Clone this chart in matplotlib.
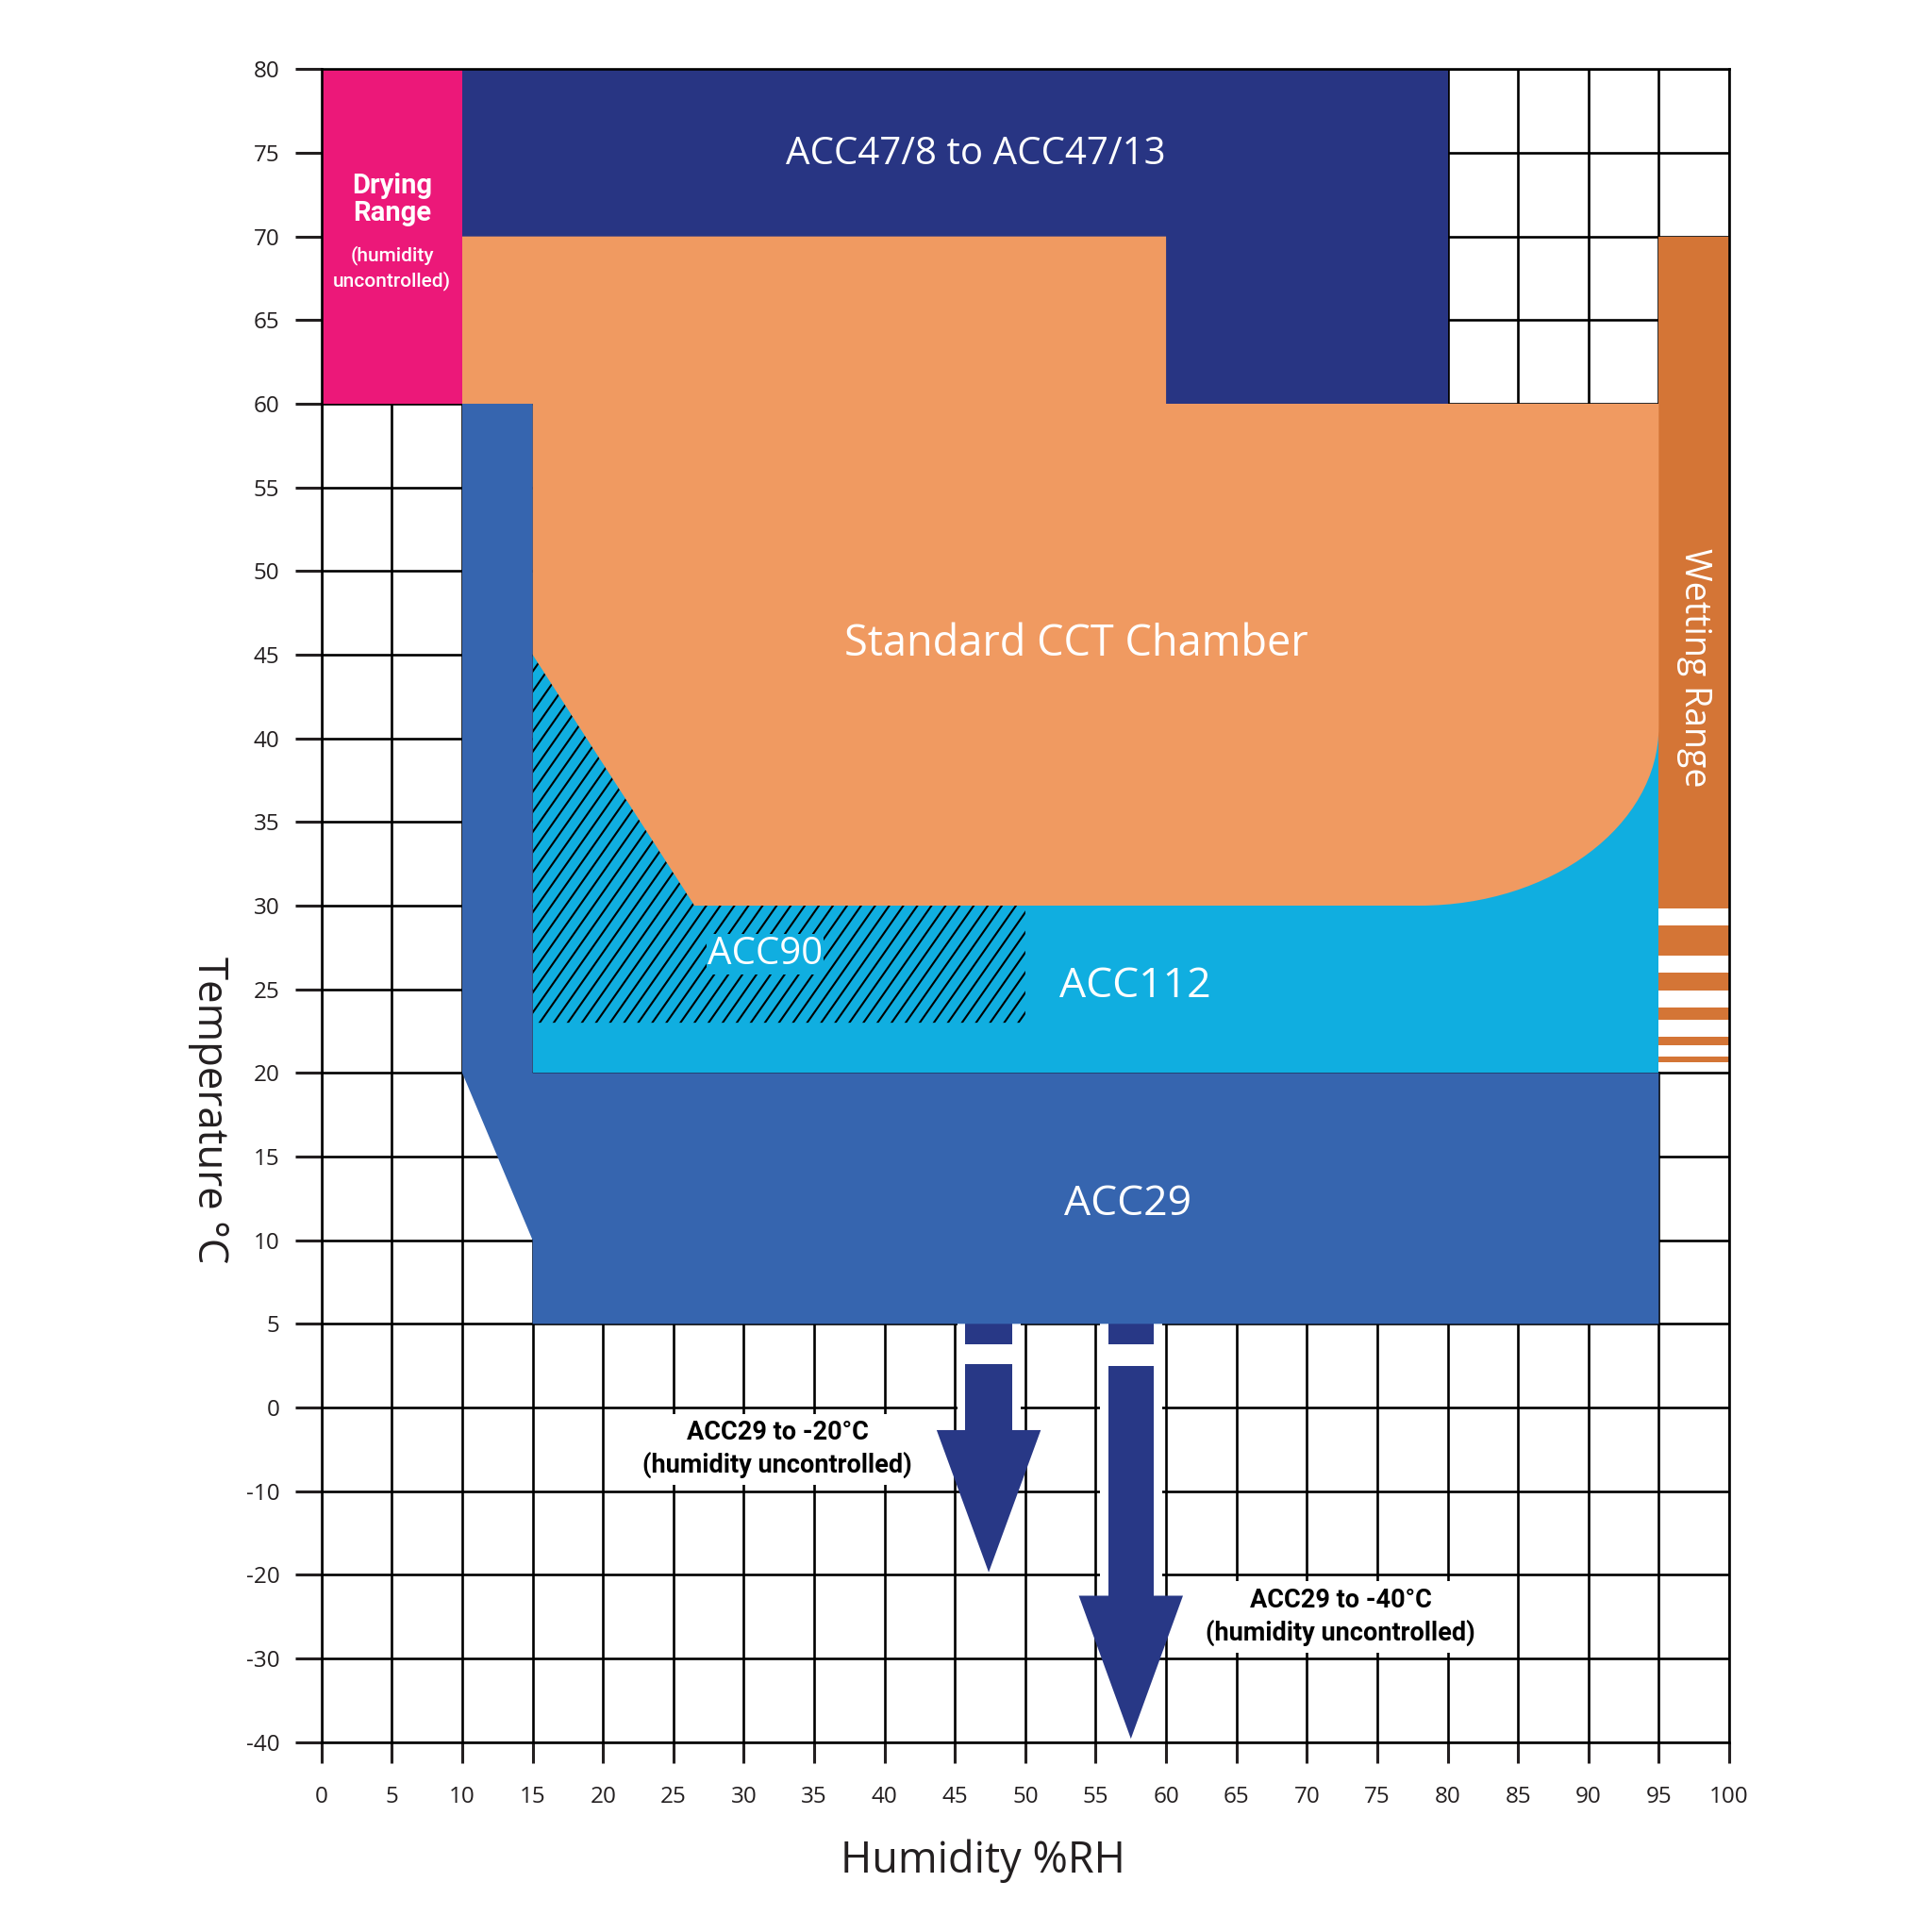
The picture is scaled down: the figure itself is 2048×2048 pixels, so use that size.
import numpy as np
import matplotlib
matplotlib.use("Agg")
import matplotlib.pyplot as plt
from matplotlib.path import Path
from matplotlib.patches import PathPatch, Rectangle

plt.rcParams['font.family'] = ['Open Sans', 'DejaVu Sans']
plt.rcParams['axes.unicode_minus'] = False

NARROW = ['Roboto', 'DejaVu Sans']

# axis ticks
hum_ticks = list(range(0, 101, 5))
temp_ticks = [80, 75, 70, 65, 60, 55, 50, 45, 40, 35, 30, 25, 20, 15, 10, 5, 0, -10, -20, -30, -40]

# operating regions (humidity %RH, temperature C)
drying_x = [0, 10, 10, 0]
drying_t = [60, 60, 80, 80]

acc47_x = [10, 80, 80, 60, 60, 10]
acc47_t = [80, 80, 60, 60, 70, 70]

acc29_x = [10, 15, 15, 95, 95, 15, 15, 10]
acc29_t = [60, 60, 20, 20, 5, 5, 10, 20]

acc112_x = [15, 95, 95, 15]
acc112_t = [20, 20, 45, 45]

acc90_x = [15, 50, 50, 26.5, 15]
acc90_t = [23, 23, 30, 30, 45]

# standard chamber outline, last corner is rounded
cct_x = [10, 60, 60, 95, 95, 95, 87.4, 78, 26.5, 15, 15, 10, 10]
cct_t = [70, 70, 60, 60, 40.7, 34.8, 30, 30, 30, 45, 60, 60, 70]
cct_codes = [Path.MOVETO, Path.LINETO, Path.LINETO, Path.LINETO, Path.LINETO,
             Path.CURVE4, Path.CURVE4, Path.CURVE4,
             Path.LINETO, Path.LINETO, Path.LINETO, Path.LINETO, Path.CLOSEPOLY]

wet_x = [95, 100]
wet_t = [29.85, 70]
stripe_top = [28.8, 26.0, 23.9, 22.15, 21.0]
stripe_bot = [27.0, 24.9, 23.15, 21.65, 20.65]

# arrows below ACC29
arrow_x = [47.4, 57.5]
arrow_shaft = [1.65, 1.6]
arrow_head = [3.7, 3.7]
arrow_break = [(3.8, 2.6), (3.8, 2.5)]
arrow_headtop = [-2.7, -22.5]
arrow_tip = [-19.7, -39.6]

PINK = '#EC1879'
NAVY = '#283583'
ORANGE = '#F09A61'
CYAN = '#10AEE0'
BLUE = '#3665AF'
WET = '#D47536'
ARROW = '#283886'
INK = '#231F20'


def fwd(t):
    t = np.asarray(t, dtype=float)
    return np.where(t >= 0, t / 5.0, t / 10.0)


def inv(y):
    y = np.asarray(y, dtype=float)
    return np.where(y >= 0, y * 5.0, y * 10.0)


fig = plt.figure(figsize=(20.48, 20.48), dpi=100)
ax = fig.add_axes([0.1664, 0.0983, 0.7286, 0.8659])
ax.set_yscale('function', functions=(fwd, inv))
ax.set_xlim(0, 100)
ax.set_ylim(-40, 80)

ax.set_xticks(hum_ticks)
ax.set_xticklabels([str(h) for h in hum_ticks], fontsize=17.5)
ax.set_yticks(temp_ticks)
ax.set_yticklabels([str(t) for t in temp_ticks], fontsize=17.5)
ax.minorticks_off()
ax.tick_params(axis='x', length=16, width=2.2, pad=17, colors=INK)
ax.tick_params(axis='y', length=20, width=2.2, pad=12, colors=INK)
ax.grid(True, color='black', linewidth=1.9)
ax.set_axisbelow(True)
for sp in ax.spines.values():
    sp.set_linewidth(1.9)
    sp.set_color('black')

# region fills
ax.fill(drying_x, drying_t, color=PINK, lw=0)
ax.fill(acc47_x, acc47_t, color=NAVY, lw=0)
ax.fill(acc112_x, acc112_t, color=CYAN, lw=0)

# ACC90 hatch, drawn as slanted lines clipped to its outline
acc90 = ax.fill(acc90_x, acc90_t, facecolor='none', lw=0)[0]
for c in np.arange(-12, 52, 1.0):
    ln, = ax.plot([c, c + 25.0], [20, 50], color='black', lw=1.5, zorder=1.5)
    ln.set_clip_path(acc90)

cct = Path(np.column_stack([cct_x, cct_t]), cct_codes)
ax.add_patch(PathPatch(cct, facecolor=ORANGE, lw=0, zorder=1.6))
ax.fill(acc29_x, acc29_t, color=BLUE, lw=0, zorder=1.6)

# wetting range with stripes
ax.add_patch(Rectangle((wet_x[0], 20.1), wet_x[1] - wet_x[0], wet_t[0] - 20.1,
                       facecolor='white', lw=0, zorder=1.2))
ax.fill_between(wet_x, wet_t[0], wet_t[1], color=WET, lw=0, zorder=1.3)
for top, bot in zip(stripe_top, stripe_bot):
    ax.fill_between(wet_x, bot, top, color=WET, lw=0, zorder=1.3)

# arrows
for xc, sw, hw, brk, htop, tip in zip(arrow_x, arrow_shaft, arrow_head, arrow_break,
                                      arrow_headtop, arrow_tip):
    ax.fill_between([xc - sw - 0.6, xc + sw + 0.6], htop, 5, color='white', lw=0, zorder=1.2)
    ax.fill_between([xc - sw, xc + sw], brk[0], 5, color=ARROW, lw=0, zorder=1.4)
    ax.fill_between([xc - sw, xc + sw], htop, brk[1], color=ARROW, lw=0, zorder=1.4)
    ax.fill([xc - hw, xc + hw, xc], [htop, htop, tip], color=ARROW, lw=0, zorder=1.4)

# labels
ax.text(5, 72.2, 'Drying\nRange', color='white', ha='center', va='center',
        family=NARROW, fontweight='bold', fontsize=21, linespacing=1.05, zorder=3)
ax.text(5, 68.1, '(humidity\nuncontrolled)', color='white', ha='center', va='center',
        family=NARROW, fontweight='medium', fontsize=15, linespacing=1.35, zorder=3)
ax.text(46.5, 74.9, 'ACC47/8 to ACC47/13', color='white', ha='center', va='center',
        fontsize=29, zorder=3)
ax.text(53.6, 45.6, 'Standard CCT Chamber', color='white', ha='center', va='center',
        fontsize=32.5, zorder=3)
ax.text(31.5, 27.1, 'ACC90', color='white', ha='center', va='center', fontsize=29,
        bbox=dict(facecolor=CYAN, edgecolor='none', pad=1), zorder=3)
ax.text(57.8, 25.15, 'ACC112', color='white', ha='center', va='center', fontsize=32, zorder=3)
ax.text(57.3, 12.15, 'ACC29', color='white', ha='center', va='center', fontsize=32, zorder=3)
ax.text(97.5, 44.2, 'Wetting Range', color='white', ha='center', va='center',
        fontsize=27, rotation=270, zorder=3)
ax.text(32.4, -5.0, 'ACC29 to -20°C\n(humidity uncontrolled)', color='black', ha='center',
        va='center', family=NARROW, fontweight='bold', fontsize=19.5, linespacing=1.3,
        bbox=dict(facecolor='white', edgecolor='none', pad=5), zorder=1.3)
ax.text(72.4, -25.0, 'ACC29 to -40°C\n(humidity uncontrolled)', color='black', ha='center',
        va='center', family=NARROW, fontweight='bold', fontsize=19.5, linespacing=1.3,
        bbox=dict(facecolor='white', edgecolor='none', pad=5), zorder=1.3)

ax.set_xlabel('Humidity %RH', fontsize=32.5, color=INK)
ax.xaxis.set_label_coords(0.47, -0.058)
ax.set_ylabel('Temperature °C', fontsize=31.5, color=INK, rotation=270, va='center')
ax.yaxis.set_label_coords(-0.08, 0.378)

fig.savefig('out.png', dpi=100, facecolor='white')
